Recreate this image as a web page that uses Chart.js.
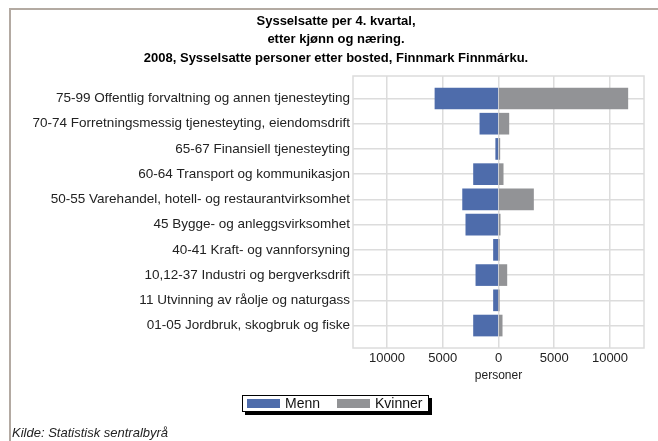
<!DOCTYPE html>
<html>
<head>
<meta charset="utf-8">
<script src="https://cdn.jsdelivr.net/npm/chart.js@4/dist/chart.umd.min.js"></script>
<style>
  html, body { margin: 0; padding: 0; background: #fff; }
  #wrap { position: relative; width: 658px; height: 441px; overflow: hidden; }
  #frame { position: absolute; left: 9px; top: 8px; right: -10px; bottom: -10px;
           border-left: 2px solid #b3aaa2; border-top: 2px solid #b3aaa2; }
  canvas { position: absolute; left: 0; top: 0; }
  #legend { position: absolute; left: 242px; top: 395px; width: 185px; height: 15px;
            border: 1px solid #000; background: #fff; box-shadow: 3px 3px 0 #000;
            font: 14px "Liberation Sans", Arial, sans-serif; color: #111; }
  #legend .item { position: absolute; top: 0; height: 15px; line-height: 15px; white-space: nowrap; }
  #legend .sw { display: inline-block; width: 33px; height: 9px; vertical-align: middle; margin-right: 5px; position: relative; top: -1px; }
  #source { position: absolute; left: 12px; top: 425px; font: italic 13px "Liberation Sans", Arial, sans-serif; color: #222; }
</style>
</head>
<body>
<div id="wrap">
  <div id="frame"></div>
  <canvas id="chart" width="658" height="441"></canvas>
  <div id="legend"></div>
  <div id="source">Kilde: Statistisk sentralbyrå</div>
</div>
<script>
// categories, top to bottom
const categories = [
    '75-99 Offentlig forvaltning og annen tjenesteyting',
    '70-74 Forretningsmessig tjenesteyting, eiendomsdrift',
    '65-67 Finansiell tjenesteyting',
    '60-64 Transport og kommunikasjon',
    '50-55 Varehandel, hotell- og restaurantvirksomhet',
    '45 Bygge- og anleggsvirksomhet',
    '40-41 Kraft- og vannforsyning',
    '10,12-37 Industri og bergverksdrift',
    '11 Utvinning av råolje og naturgass',
    '01-05 Jordbruk, skogbruk og fiske'
];
const menn    = [5700, 1670, 250, 2240, 3220, 2930, 450, 2030, 450, 2240];
const kvinner = [11600, 930, 120, 420, 3140, 150, 40, 750, 30, 330];
const xTicks  = [-10000, -5000, 0, 5000, 10000];

const titleLines = [
    'Sysselsatte per 4. kvartal,',
    'etter kjønn og næring.',
    '2008, Sysselsatte personer etter bosted, Finnmark Finnmárku.'
];

const blue = '#4e6cab';
const grey = '#929396';
const gridColor = '#dcdcdc';

// box around the plot area (top and right sides aren't drawn by the axes)
const plotBox = {
    id: 'plotBox',
    afterDraw(chart) {
        const a = chart.chartArea;
        const ctx = chart.ctx;
        ctx.save();
        ctx.strokeStyle = gridColor;
        ctx.lineWidth = 1.5;
        ctx.strokeRect(a.left, a.top, a.right - a.left, a.bottom - a.top);
        ctx.restore();
    }
};

const chart = new Chart(document.getElementById('chart'), {
    type: 'bar',
    data: {
        datasets: [{
            label: 'Menn',
            data: menn.map((v, i) => ({ x: -v, y: i })),
            backgroundColor: blue,
            barThickness: 21
        }, {
            label: 'Kvinner',
            data: kvinner.map((v, i) => ({ x: v, y: i })),
            backgroundColor: grey,
            barThickness: 21
        }]
    },
    plugins: [plotBox],
    options: {
        indexAxis: 'y',
        responsive: false,
        animation: false,
        layout: { padding: { left: 28, right: 14, top: 0, bottom: 55 } },
        plugins: {
            legend: { display: false },
            tooltip: { enabled: false },
            title: {
                display: true,
                text: titleLines,
                color: '#000',
                font: { family: '"Liberation Sans Narrow", "Liberation Sans", Arial, sans-serif', size: 13, weight: 'bold', lineHeight: '18.5px' },
                padding: { top: 12, bottom: 8.5 }
            }
        },
        scales: {
            x: {
                stacked: true,
                min: -13050,
                max: 13050,
                afterBuildTicks: s => { s.ticks = xTicks.map(v => ({ value: v })); },
                afterFit: s => { s.height = 38; },
                ticks: {
                    callback: v => String(Math.abs(v)),
                    color: '#222',
                    font: { family: '"Liberation Sans", Arial, sans-serif', size: 13 },
                    padding: 3,
                    maxRotation: 0
                },
                grid: { color: gridColor, lineWidth: 1.5, drawTicks: false },
                border: { display: false },
                title: {
                    display: true,
                    text: 'personer',
                    color: '#222',
                    font: { family: '"Liberation Sans", Arial, sans-serif', size: 12 },
                    padding: { top: 0, bottom: 3 }
                }
            },
            y: {
                type: 'linear',
                stacked: true,
                reverse: true,
                offset: false,
                min: -0.89,
                max: 9.89,
                afterBuildTicks: s => { s.ticks = categories.map((c, i) => ({ value: i })); },
                afterFit: s => { s.width = 353 - 28; },
                ticks: {
                    callback: (v) => categories[v],
                    color: '#222',
                    font: { family: '"Liberation Sans", Arial, sans-serif', size: 13.5 },
                    padding: 3
                },
                grid: { color: gridColor, lineWidth: 1.5, drawTicks: false, offset: false },
                border: { display: false }
            }
        }
    }
});

// legend built from the chart's datasets
const legend = document.getElementById('legend');
const itemLeft = [4, 94];
chart.data.datasets.forEach((ds, i) => {
    const item = document.createElement('span');
    item.className = 'item';
    item.style.left = itemLeft[i] + 'px';
    item.innerHTML = '<span class="sw" style="background:' + ds.backgroundColor + '"></span>' + ds.label;
    legend.appendChild(item);
});
</script>
</body>
</html>
